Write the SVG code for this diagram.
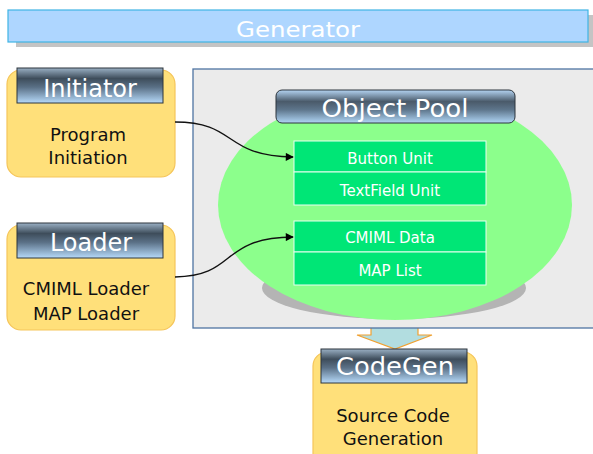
<svg xmlns="http://www.w3.org/2000/svg" width="593" height="454" viewBox="0 0 593 454">
  <defs>
    <linearGradient id="hdr" x1="0" y1="0" x2="0" y2="1">
      <stop offset="0" stop-color="#9ab0c4"/>
      <stop offset="0.3" stop-color="#3e4d5b"/>
      <stop offset="0.55" stop-color="#5a7086"/>
      <stop offset="1" stop-color="#b6dafa"/>
    </linearGradient>
    <linearGradient id="hdrPool" x1="0" y1="0" x2="0" y2="1">
      <stop offset="0" stop-color="#b4d4f2"/>
      <stop offset="0.35" stop-color="#4a5a6a"/>
      <stop offset="0.6" stop-color="#5e768c"/>
      <stop offset="1" stop-color="#b0d6f6"/>
    </linearGradient>
    <marker id="arrow" viewBox="0 0 10 10" refX="9" refY="5" markerWidth="10" markerHeight="8" markerUnits="userSpaceOnUse" orient="auto">
      <path d="M0,0 L10,5 L0,10 z" fill="#000"/>
    </marker>
  </defs>
  <style>
    .card { fill: #ffe07a; stroke: #f5c55a; stroke-width: 1.2; }
    .hdr { fill: url(#hdr); stroke: #2c343c; stroke-width: 1; }
    .hdrText { font-family: "DejaVu Sans", sans-serif; font-size: 24px; fill: #ffffff; text-anchor: middle; }
    .body { font-family: "DejaVu Sans", sans-serif; font-size: 18px; fill: #111111; text-anchor: middle; }
    .unit { fill: #00e676; stroke: #e8fff0; stroke-width: 1; }
    .unitText { font-family: "DejaVu Sans", sans-serif; font-size: 15px; fill: #ffffff; text-anchor: middle; }
    .conn { fill: none; stroke: #111111; stroke-width: 1.4; marker-end: url(#arrow); }
  </style>

  <rect width="593" height="454" fill="#ffffff"/>

  <!-- title bar -->
  <g id="generator">
    <rect x="16" y="15" width="580" height="32" fill="#c4c4c4"/>
    <rect x="8" y="10" width="580" height="32" fill="#aed6ff" stroke="#3fb4e4" stroke-width="1.2"/>
    <text x="298" y="37" font-family="DejaVu Sans, sans-serif" font-size="22" fill="#ffffff" text-anchor="middle" textLength="124" lengthAdjust="spacingAndGlyphs">Generator</text>
  </g>

  <!-- transfer arrow from pool to code generator -->
  <g id="transfer">
    <path d="M371,326 L418,326 L418,335 L432,335 L395,349 L357,335 L371,335 z" fill="#b2dde0" stroke="#f0a030" stroke-width="1.2"/>
  </g>

  <!-- object pool container -->
  <g id="object-pool">
    <rect x="193" y="69" width="410" height="259" fill="#ebebeb" stroke="#4f74a2" stroke-width="1.3"/>
    <ellipse cx="394" cy="288" rx="132" ry="31" fill="#b4b4b4"/>
    <ellipse cx="395" cy="205" rx="177" ry="115" fill="#8cff8c"/>
    <rect x="276" y="90" width="239" height="33" rx="6" fill="url(#hdrPool)" stroke="#2c343c" stroke-width="1"/>
    <text x="395" y="117" font-family="DejaVu Sans, sans-serif" font-size="25" fill="#ffffff" text-anchor="middle" textLength="147" lengthAdjust="spacingAndGlyphs">Object Pool</text>
  </g>

  <g id="button-unit">
    <rect class="unit" x="294" y="141" width="192" height="31"/>
    <text class="unitText" x="390" y="164">Button Unit</text>
  </g>
  <g id="textfield-unit">
    <rect class="unit" x="294" y="172" width="192" height="33"/>
    <text class="unitText" x="390" y="196">TextField Unit</text>
  </g>
  <g id="cmiml-data">
    <rect class="unit" x="294" y="221" width="192" height="31"/>
    <text class="unitText" x="390" y="243">CMIML Data</text>
  </g>
  <g id="map-list">
    <rect class="unit" x="294" y="252" width="192" height="33"/>
    <text class="unitText" x="390" y="276">MAP List</text>
  </g>

  <!-- initiator -->
  <g id="initiator">
    <rect class="card" x="7" y="70" width="168" height="107" rx="14"/>
    <rect class="hdr" x="17" y="68" width="146" height="35"/>
    <text class="hdrText" x="90" y="97">Initiator</text>
    <text class="body" x="88" y="141">Program</text>
    <text class="body" x="88" y="164">Initiation</text>
  </g>

  <!-- loader -->
  <g id="loader">
    <rect class="card" x="7" y="225" width="168" height="105" rx="14"/>
    <rect class="hdr" x="17" y="223" width="146" height="35"/>
    <text class="hdrText" x="91" y="251">Loader</text>
    <text class="body" x="86" y="295">CMIML Loader</text>
    <text class="body" x="86" y="320">MAP Loader</text>
  </g>

  <!-- code generator -->
  <g id="codegen">
    <rect class="card" x="313" y="352" width="164" height="115" rx="14"/>
    <rect class="hdr" x="321" y="349" width="146" height="34"/>
    <text class="hdrText" x="395" y="375" textLength="118" lengthAdjust="spacingAndGlyphs">CodeGen</text>
    <text class="body" x="393" y="422">Source Code</text>
    <text class="body" x="393" y="445">Generation</text>
  </g>

  <!-- connectors -->
  <g id="connectors">
    <path class="conn" d="M175,122 C238,122 222,156 293,157"/>
    <path class="conn" d="M175,277 C238,276 218,238 293,237"/>
  </g>
</svg>
